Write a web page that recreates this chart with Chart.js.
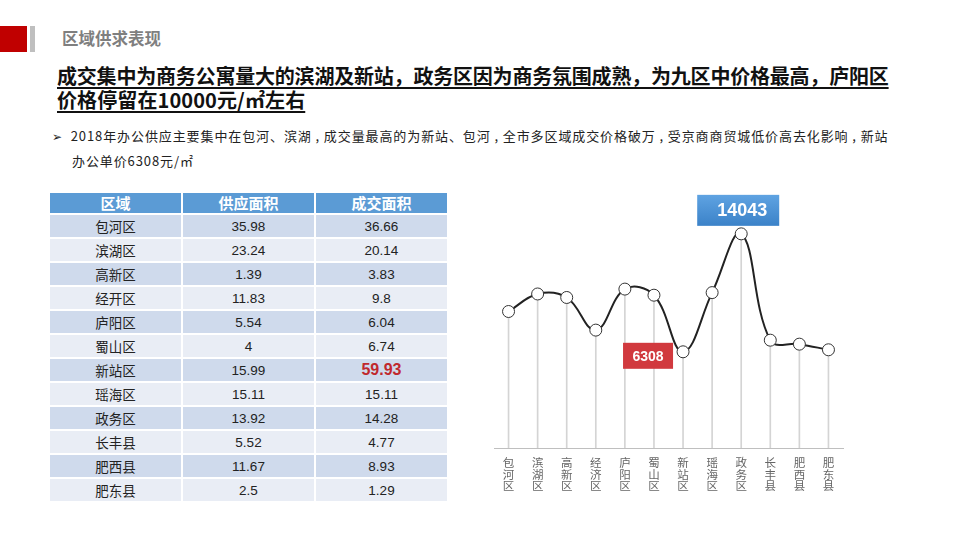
<!DOCTYPE html>
<html><head><meta charset="utf-8">
<script src="https://cdn.jsdelivr.net/npm/chart.js@4"></script>
<style>
html,body{margin:0;padding:0;background:#fff;width:960px;height:540px;overflow:hidden;font-family:"Noto Sans CJK SC","Liberation Sans",sans-serif;}
.abs{position:absolute;}
#sec{left:62px;top:27px;font-size:16.5px;font-weight:bold;color:#7f7f7f;line-height:22px;}
#head{left:57px;top:64px;font-size:20px;font-weight:bold;color:#111;line-height:24px;text-decoration:underline;text-underline-offset:3px;white-space:nowrap;letter-spacing:0.1px;}
#head .l1{letter-spacing:-0.2px;}
#bul{left:52px;top:123px;font-size:13px;color:#222;line-height:25px;white-space:nowrap;}
#bul .t{letter-spacing:0.9px;}
table{border-collapse:collapse;position:absolute;left:48px;top:191px;font-family:"Liberation Sans","Noto Sans CJK SC",sans-serif;font-size:13.5px;color:#222;}
td,th{width:131px;text-align:center;padding:0;border:2px solid #fff;height:22px;}
th{background:#5b9bd5;color:#fff;font-family:"Noto Sans CJK SC",sans-serif;font-weight:bold;font-size:15px;height:20px;line-height:20px;}
tr.o td{background:#cfdaec;}
tr.e td{background:#e9edf5;}
td.c{font-family:"Noto Sans CJK SC",sans-serif;font-size:13.5px;}
#cv{left:480px;top:150px;}
</style></head>
<body>
<div class="abs" style="left:0;top:26px;width:27px;height:26px;background:#c00000"></div>
<div class="abs" style="left:30px;top:26px;width:5px;height:26px;background:#bfbfbf"></div>
<div id="sec" class="abs">区域供求表现</div>
<div id="head" class="abs"><span class="l1">成交集中为商务公寓量大的滨湖及新站，政务区因为商务氛围成熟，为九区中价格最高，庐阳区</span><br>价格停留在10000元/㎡左右</div>
<div id="bul" class="abs"><span style="font-size:12px">➢</span>&nbsp;&nbsp; <span class="t">2018年办公供应主要集中在包河、滨湖 , 成交量最高的为新站、包河 , 全市多区域成交价格破万 , 受京商商贸城低价高去化影响 , 新站</span><br><span style="padding-left:20px" class="t">办公单价6308元/㎡</span></div>
<table id="tbl"></table>
<div id="cv" class="abs" style="width:380px;height:350px"><canvas id="c" width="380" height="350"></canvas></div>
<script>
const tableHeaders = ['区域','供应面积','成交面积'];
const districts = ['包河区','滨湖区','高新区','经开区','庐阳区','蜀山区','新站区','瑶海区','政务区','长丰县','肥西县','肥东县'];
const supplyArea = ['35.98','23.24','1.39','11.83','5.54','4','15.99','15.11','13.92','5.52','11.67','2.5'];
const dealArea = ['36.66','20.14','3.83','9.8','6.04','6.74','59.93','15.11','14.28','4.77','8.93','1.29'];
const chartLabels = ['包河区','滨湖区','高新区','经济区','庐阳区','蜀山区','新站区','瑶海区','政务区','长丰县','肥西县','肥东县'];
const prices = [8950,10100,9870,7730,10420,10020,6308,10190,14043,7070,6810,6440];
const highlightMax = 8;
const highlightMin = 6;

// table
const tbl = document.getElementById('tbl');
let h = '<tr>' + tableHeaders.map(t=>'<th>'+t+'</th>').join('') + '</tr>';
districts.forEach((d,i)=>{
  const red = dealArea[i]==='59.93';
  h += '<tr class="'+(i%2===0?'o':'e')+'"><td class="c">'+d+'</td><td>'+supplyArea[i]+'</td><td'+(red?' style="color:#c0282d;font-weight:bold;font-size:16px"':'')+'>'+dealArea[i]+'</td></tr>';
});
tbl.innerHTML = h;

const boxPlugin = {
  id:'boxes',
  afterDatasetsDraw(chart){
    const ctx = chart.ctx;
    const meta = chart.getDatasetMeta(1);
    const pMax = meta.data[highlightMax], pMin = meta.data[highlightMin];
    // blue box
    let x = pMax.x - 44, y = pMax.y - 39, w = 82, hh = 31;
    const g = ctx.createLinearGradient(0,y,0,y+hh);
    g.addColorStop(0,'#5fa3e2'); g.addColorStop(1,'#3b82c8');
    ctx.save();
    ctx.fillStyle = g; ctx.fillRect(x,y,w,hh);
    ctx.fillStyle = '#fff'; ctx.font = 'bold 18px "Liberation Sans", sans-serif';
    ctx.textAlign='center'; ctx.textBaseline='middle';
    ctx.fillText(String(prices[highlightMax]), x+w/2+4, y+hh/2+1);
    // red box
    x = pMin.x - 60; y = pMin.y - 9; w = 50; hh = 26;
    ctx.fillStyle = '#d1393e'; ctx.fillRect(x,y,w,hh);
    ctx.fillStyle = '#fff'; ctx.font = 'bold 14px "Liberation Sans Narrow", "Liberation Sans", sans-serif';
    ctx.fillText(String(prices[highlightMin]), x+w/2, y+hh/2+1);
    ctx.restore();
  }
};

new Chart(document.getElementById('c'), {
  data:{
    labels: chartLabels.map(s=>s.split('')),
    datasets:[
      {type:'bar', data:prices, backgroundColor:'#d4d4d4', barThickness:1, order:2},
      {type:'line', data:prices, borderColor:'#222', borderWidth:2, tension:0.4, fill:false,
       pointRadius:6, pointBackgroundColor:'#fff', pointBorderColor:'#333', pointBorderWidth:1, order:1}
    ]
  },
  options:{
    responsive:false, animation:false,
    layout:{padding:{left:14,right:17,top:54,bottom:0}},
    plugins:{legend:{display:false}, tooltip:{enabled:false}},
    scales:{
      x:{offset:true, grid:{display:false, drawTicks:false}, border:{display:true,color:'#bfbfbf',width:1},
         ticks:{color:'#666', font:{size:11.5,family:'"Noto Sans CJK SC"',lineHeight:1.0}, padding:9, maxRotation:0, autoSkip:false},
         afterFit:(s)=>{s.height=52;}},
      y:{display:false, min:0, max:16000}
    }
  },
  plugins:[boxPlugin]
});
</script>
</body></html>
